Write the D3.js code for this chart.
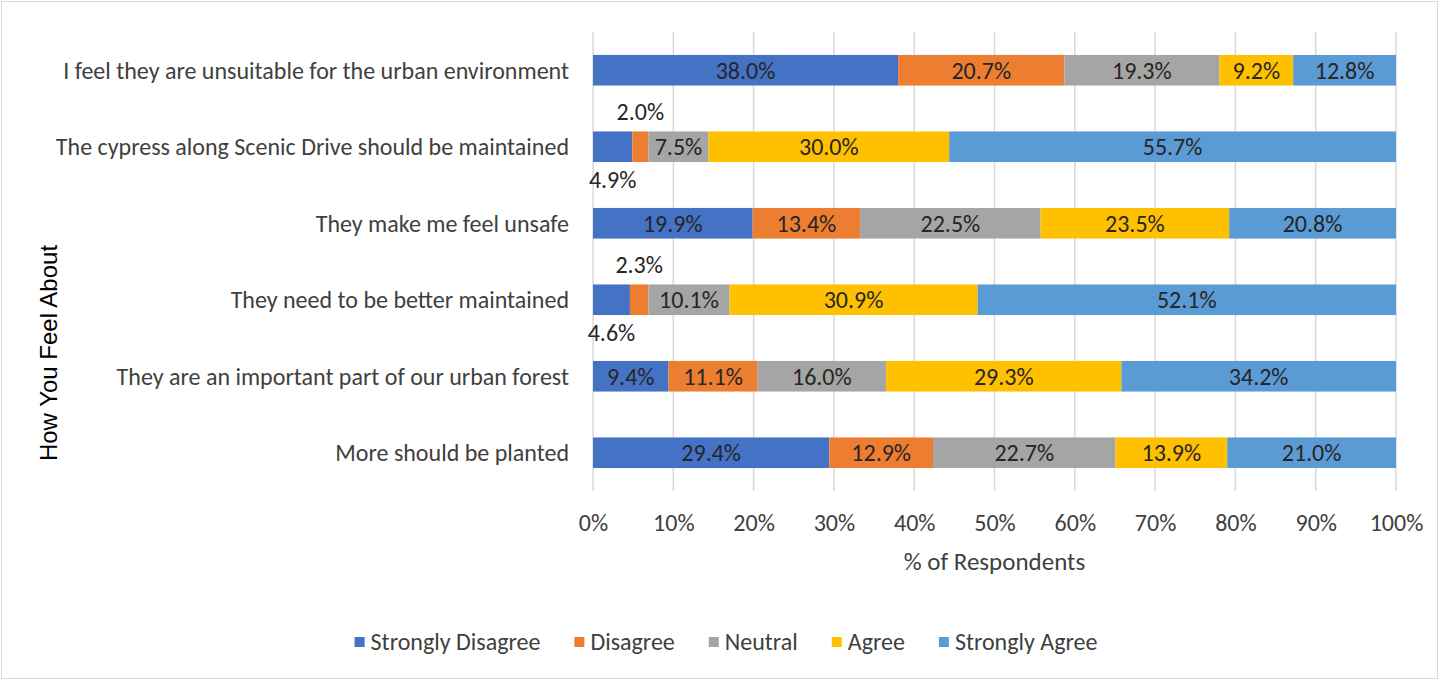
<!DOCTYPE html>
<html><head><meta charset="utf-8">
<script src="https://cdn.jsdelivr.net/npm/d3@7"></script>
<style>
html,body{margin:0;padding:0;background:#fff;}
svg{display:block;}
</style></head>
<body>
<svg id="chart" width="1442" height="681"></svg>
<script>
const categories = [
  "I feel they are unsuitable for the urban environment",
  "The cypress along Scenic Drive should be maintained",
  "They make me feel unsafe",
  "They need to be better maintained",
  "They are an important part of our urban forest",
  "More should be planted"
];
const seriesNames = ["Strongly Disagree", "Disagree", "Neutral", "Agree", "Strongly Agree"];
const stronglyDisagree = [38.0, 4.9, 19.9, 4.6, 9.4, 29.4];
const disagree        = [20.7, 2.0, 13.4, 2.3, 11.1, 12.9];
const neutral         = [19.3, 7.5, 22.5, 10.1, 16.0, 22.7];
const agree           = [9.2, 30.0, 23.5, 30.9, 29.3, 13.9];
const stronglyAgree   = [12.8, 55.7, 20.8, 52.1, 34.2, 21.0];
const seriesColors = ["#4472C4", "#ED7D31", "#A5A5A5", "#FFC000", "#5B9BD5"];
const xTicks = [0, 0.1, 0.2, 0.3, 0.4, 0.5, 0.6, 0.7, 0.8, 0.9, 1.0];
const xTitle = "% of Respondents";
const yTitle = "How You Feel About";

const seriesValues = [stronglyDisagree, disagree, neutral, agree, stronglyAgree];
const FONT = "Carlito, Calibri, 'Open Sans', sans-serif";

const svg = d3.select("#chart");
const W = 1442, H = 681;
const margin = {left: 593, right: 46, top: 32, bottom: 190};
const plotW = W - margin.left - margin.right;   // 803
const plotH = H - margin.top - margin.bottom;

// border
svg.append("rect").attr("x", 1.5).attr("y", 1.5).attr("width", 1436).attr("height", 677)
  .attr("fill", "#fff").attr("stroke", "#d9d9d9").attr("stroke-width", 1);

// build rows
const rows = categories.map((c, i) => {
  const r = {cat: c};
  seriesNames.forEach((s, j) => r[s] = seriesValues[j][i]);
  return r;
});
const stacked = d3.stack().keys(seriesNames).offset(d3.stackOffsetExpand)(rows);

const x = d3.scaleLinear().domain([0, 1]).range([margin.left, margin.left + plotW]);
const y = d3.scaleBand().domain(categories).range([margin.top, margin.top + plotH]).paddingInner(0.6).paddingOuter(0.3);

// gridlines
svg.append("g").selectAll("line").data(xTicks).join("line")
  .attr("x1", d => x(d)).attr("x2", d => x(d))
  .attr("y1", margin.top).attr("y2", margin.top + plotH)
  .attr("stroke", "#d9d9d9").attr("stroke-width", 1.5);

// bars
const layers = svg.append("g").selectAll("g").data(stacked).join("g")
  .attr("fill", (d, i) => seriesColors[i]);
layers.selectAll("rect").data(d => d.map(v => ({v, cat: v.data.cat}))).join("rect")
  .attr("x", d => x(d.v[0])).attr("width", d => x(d.v[1]) - x(d.v[0]))
  .attr("y", d => y(d.cat)).attr("height", y.bandwidth());

// data labels
const labelG = svg.append("g").attr("font-family", FONT).attr("font-size", 24).attr("fill", "#262626");
stacked.forEach((layer, si) => {
  layer.forEach((v, ri) => {
    const raw = seriesValues[si][ri];
    const cx = (x(v[0]) + x(v[1])) / 2;
    let cy = y(v.data.cat) + y.bandwidth() / 2;
    if (raw < 6) cy += (si === 0 ? 33 : -35);
    labelG.append("text").attr("x", cx).attr("y", cy).attr("dy", "0.35em")
      .attr("text-anchor", "middle").text(raw.toFixed(1) + "%");
  });
});

// category labels
svg.append("g").attr("font-family", FONT).attr("font-size", 24).attr("fill", "#404040")
  .selectAll("text").data(categories).join("text")
  .attr("x", margin.left - 24).attr("y", d => y(d) + y.bandwidth() / 2).attr("dy", "0.35em")
  .attr("text-anchor", "end").text(d => d);

// x axis tick labels
const xAxis = d3.axisBottom(x).tickValues(xTicks).tickFormat(d3.format(".0%")).tickSize(0).tickPadding(0);
const gx = svg.append("g").attr("transform", `translate(0,${margin.top + plotH + 23})`).call(xAxis);
gx.select(".domain").remove();
gx.selectAll("text").attr("font-family", FONT).attr("font-size", 24).attr("fill", "#404040");

// x title
svg.append("text").attr("x", margin.left + plotW / 2).attr("y", 570)
  .attr("text-anchor", "middle").attr("font-family", FONT).attr("font-size", 25).attr("fill", "#404040")
  .text(xTitle);

// y title
svg.append("text").attr("transform", "translate(57,353) rotate(-90)")
  .attr("text-anchor", "middle").attr("font-family", "'Liberation Sans', Arial, sans-serif")
  .attr("font-size", 24).attr("fill", "#000").text(yTitle);

// legend
const legend = svg.append("g").attr("font-family", FONT).attr("font-size", 24).attr("fill", "#404040");
let lx = 0;
seriesNames.forEach((s, i) => {
  const g = legend.append("g");
  g.append("rect").attr("x", 0).attr("y", -5).attr("width", 10).attr("height", 10).attr("fill", seriesColors[i]);
  const t = g.append("text").attr("x", 16).attr("y", 0).attr("dy", "0.35em").text(s);
  const w = t.node().getComputedTextLength();
  g.attr("transform", `translate(${lx},0)`);
  lx += 16 + w + 34;
});
const totalW = lx - 34;
legend.attr("transform", `translate(${726 - totalW / 2},642)`);
</script>
</body></html>
